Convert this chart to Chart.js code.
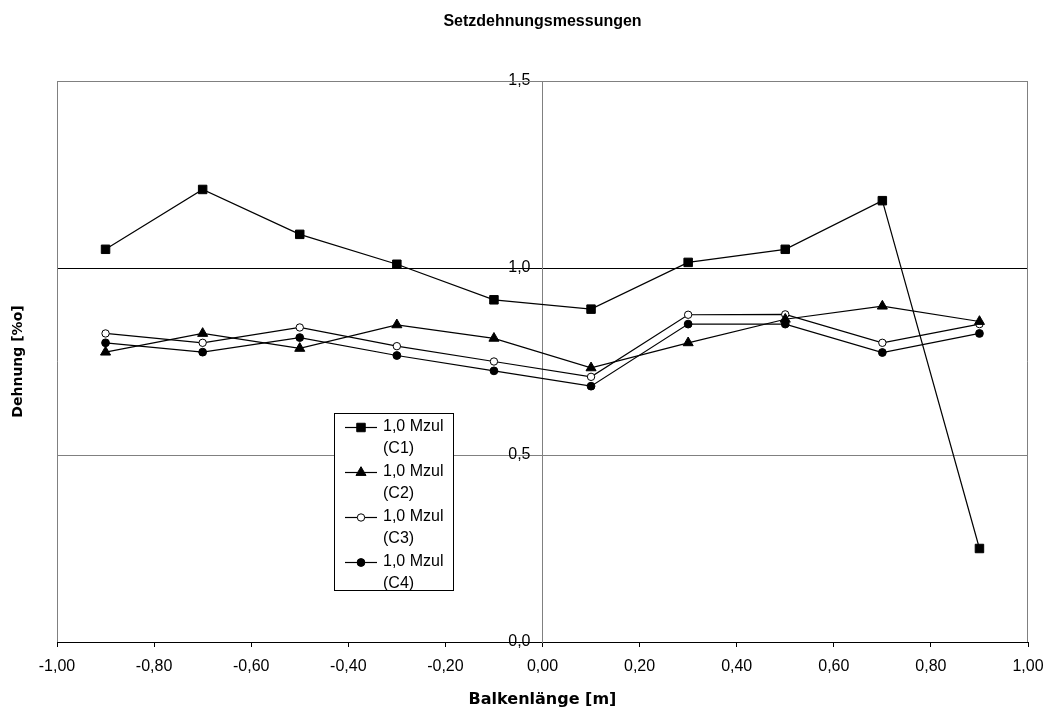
<!DOCTYPE html>
<html>
<head>
<meta charset="utf-8">
<title>Setzdehnungsmessungen</title>
<script src="https://cdn.jsdelivr.net/npm/chart.js@4/dist/chart.umd.min.js"></script>
<style>
  html, body { margin: 0; padding: 0; background: #fff; }
  #wrap { width: 1050px; height: 715px; }
</style>
</head>
<body>
<div id="wrap"><canvas id="chart" width="1050" height="715"></canvas></div>
<script>
// Messpositionen entlang des Balkens [m]
const positions = [-0.9, -0.7, -0.5, -0.3, -0.1, 0.1, 0.3, 0.5, 0.7, 0.9];

// Dehnung [%o] je Messkette
const strainC1 = [1.050, 1.210, 1.090, 1.010, 0.915, 0.890, 1.015, 1.050, 1.180, 0.250];
const strainC2 = [0.775, 0.825, 0.785, 0.848, 0.812, 0.733, 0.800, 0.863, 0.898, 0.857];
const strainC3 = [0.825, 0.800, 0.841, 0.791, 0.750, 0.709, 0.875, 0.876, 0.800, 0.850];
const strainC4 = [0.800, 0.775, 0.814, 0.766, 0.725, 0.684, 0.850, 0.850, 0.774, 0.825];

// Legendentexte (zweizeilig)
const seriesNames = [
  ['1,0 Mzul', '(C1)'],
  ['1,0 Mzul', '(C2)'],
  ['1,0 Mzul', '(C3)'],
  ['1,0 Mzul', '(C4)']
];

// Achsen
const xRange = [-1, 1];
const xStep = 0.2;
const yRange = [0, 1.5];
const yStep = 0.5;

const chartTitle = 'Setzdehnungsmessungen';
const xTitle = 'Balkenlänge [m]';
const yTitle = 'Dehnung [%o]';

const SANS = '"Liberation Sans", Arial, sans-serif';
const SANS_WIDE = '"DejaVu Sans", Verdana, sans-serif';
Chart.defaults.font.family = SANS;
Chart.defaults.color = '#000';

const toPoints = (vals) => positions.map((x, i) => ({ x: x, y: vals[i] }));
const decComma = (v, d) => {
  let s = Number(v).toFixed(d);
  if (/^-0[.,]?0*$/.test(s)) s = s.slice(1);
  return s.replace('.', ',');
};

const markerStyles = [
  { pointStyle: 'rect', radius: 6, fill: '#000' },
  { pointStyle: 'triangle', radius: 5.8, fill: '#000' },
  { pointStyle: 'circle', radius: 3.7, fill: '#fff' },
  { pointStyle: 'circle', radius: 3.9, fill: '#000' }
];

const seriesValues = [strainC1, strainC2, strainC3, strainC4];

const datasets = seriesValues.map((vals, i) => ({
  label: seriesNames[i].join(' '),
  data: toPoints(vals),
  borderColor: '#000',
  borderWidth: 1.2,
  backgroundColor: markerStyles[i].fill,
  pointStyle: markerStyles[i].pointStyle,
  pointRadius: markerStyles[i].radius,
  pointHoverRadius: markerStyles[i].radius,
  pointBackgroundColor: markerStyles[i].fill,
  pointBorderColor: '#000',
  pointBorderWidth: 1,
  tension: 0,
  fill: false
}));

// Rahmen der Zeichenfläche (grau)
const plotFrame = {
  id: 'plotFrame',
  beforeDatasetsDraw(chart) {
    const { ctx, chartArea: a } = chart;
    ctx.save();
    ctx.strokeStyle = '#808080';
    ctx.lineWidth = 1;
    ctx.beginPath();
    ctx.moveTo(a.left + 0.5, a.bottom);
    ctx.lineTo(a.left + 0.5, a.top + 0.5);
    ctx.lineTo(a.right - 0.5, a.top + 0.5);
    ctx.lineTo(a.right - 0.5, a.bottom);
    ctx.stroke();
    ctx.restore();
  }
};

// Legende im Diagramm, eingerahmt, mit zweizeiligen Einträgen
const boxedLegend = {
  id: 'boxedLegend',
  afterDatasetsDraw(chart) {
    const { ctx, chartArea: a } = chart;
    const left = a.left + 277, top = 413, w = 119, h = 177;
    ctx.save();
    ctx.fillStyle = '#fff';
    ctx.fillRect(left, top, w, h);
    ctx.strokeStyle = '#000';
    ctx.lineWidth = 1;
    ctx.strokeRect(left + 0.5, top + 0.5, w, h);
    ctx.font = '16px ' + SANS;
    ctx.textBaseline = 'middle';
    ctx.textAlign = 'left';
    chart.data.datasets.forEach((ds, i) => {
      const y = top + 14 + i * 45;
      ctx.strokeStyle = '#000';
      ctx.lineWidth = 1.2;
      ctx.beginPath();
      ctx.moveTo(left + 11, y + 0.5);
      ctx.lineTo(left + 43, y + 0.5);
      ctx.stroke();
      ctx.fillStyle = ds.pointBackgroundColor;
      ctx.strokeStyle = '#000';
      ctx.lineWidth = 1;
      Chart.helpers.drawPoint(ctx, {
        pointStyle: ds.pointStyle,
        radius: ds.pointRadius,
        rotation: 0,
        borderWidth: 1
      }, left + 27, y + 0.5);
      ctx.fillStyle = '#000';
      seriesNames[i].forEach((line, k) => {
        ctx.fillText(line, left + 49, y + k * 21.5);
      });
    });
    ctx.restore();
  }
};

new Chart(document.getElementById('chart'), {
  type: 'line',
  data: { datasets: datasets },
  plugins: [plotFrame, boxedLegend],
  options: {
    responsive: false,
    animation: false,
    events: [],
    layout: { padding: { left: 0, right: 22, top: 0, bottom: 0 } },
    plugins: {
      legend: { display: false },
      tooltip: { enabled: false },
      title: {
        display: true,
        text: chartTitle,
        fullSize: false,
        color: '#000',
        font: { family: SANS, size: 16, weight: 'bold' },
        padding: { top: 12, bottom: 49.8 }
      }
    },
    scales: {
      x: {
        type: 'linear',
        position: 'bottom',
        min: xRange[0],
        max: xRange[1],
        border: { display: true, color: '#000', width: 1 },
        grid: { drawOnChartArea: false, drawTicks: true, tickLength: 5, color: '#000' },
        ticks: {
          stepSize: xStep,
          autoSkip: false,
          maxRotation: 0,
          padding: 10,
          color: '#000',
          font: { family: SANS, size: 16 },
          callback: (v) => decComma(v, 2)
        },
        title: {
          display: true,
          text: xTitle,
          color: '#000',
          font: { family: SANS_WIDE, size: 16, weight: 'bold' },
          padding: { top: 0, bottom: 6 }
        },
        afterFit(s) {
          s.height = 73;
          s.paddingLeft = 0;
          s.paddingRight = 0;
        }
      },
      y: {
        type: 'linear',
        // symmetrischer x-Bereich: Mitte der Zeichenfläche liegt bei x = 0
        position: 'center',
        min: yRange[0],
        max: yRange[1],
        border: { display: true, color: '#808080', width: 1 },
        grid: {
          drawTicks: true,
          tickLength: 5,
          lineWidth: 1,
          color: (c) => {
            const v = c.tick ? c.tick.value : null;
            return (v === 0 || v === 1) ? '#000' : '#808080';
          }
        },
        ticks: {
          stepSize: yStep,
          padding: 7,
          color: '#000',
          font: { family: SANS, size: 16 },
          callback: (v) => decComma(v, 1)
        }
      },
      yTitle: {
        type: 'linear',
        position: 'left',
        display: true,
        grid: { display: false, drawTicks: false },
        border: { display: false },
        ticks: { display: false },
        title: {
          display: true,
          text: yTitle,
          color: '#000',
          font: { family: SANS_WIDE, size: 14, weight: 'bold' },
          padding: { top: 10, bottom: 0 }
        },
        afterFit(s) { s.width = 57; }
      }
    }
  }
});
</script>
</body>
</html>
